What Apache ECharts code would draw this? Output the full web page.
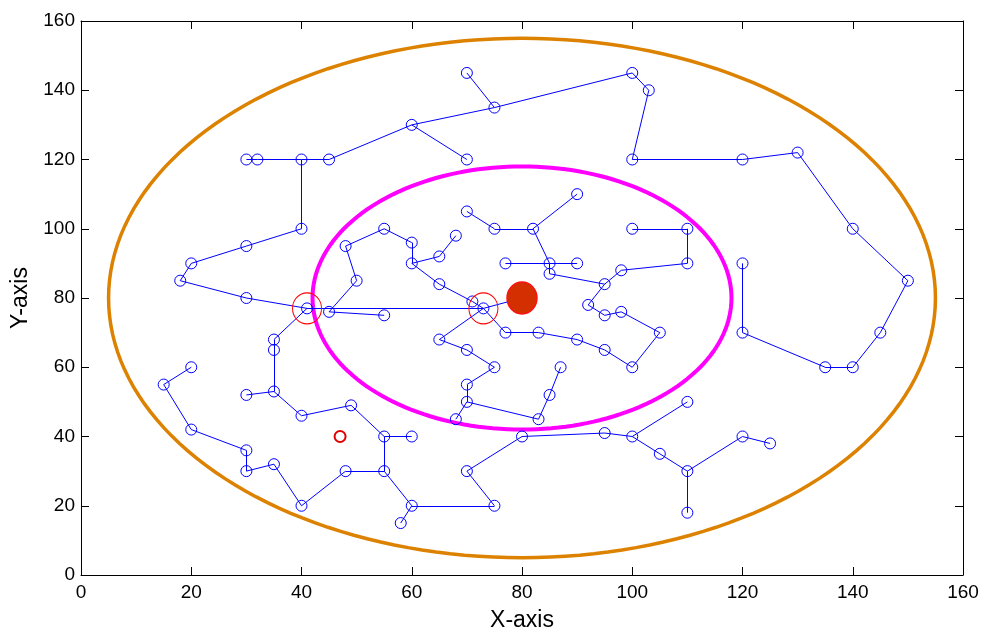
<!DOCTYPE html>
<html>

<head>
	<meta charset="UTF-8">
	<title>X-axis / Y-axis</title>
	<script type="text/javascript" src="https://cdn.jsdelivr.net/npm/echarts@6/dist/echarts.min.js"></script>
</head>
<style>
	html, body { margin: 0; padding: 0; background: #fff; }
	#chaerts01 { width: 981px; height: 632px; }
</style>

<body style="overflow: hidden;">
	<div id="chaerts01"></div>
	<script>
		// 树的节点
		var nodes = [
			[70, 145], [75, 135], [100, 145], [103, 140], [60, 130], [70, 120],
			[30, 120], [32, 120], [40, 120], [45, 120], [40, 100], [30, 95], [20, 90], [18, 85], [30, 80], [41, 77],
			[100, 120], [120, 120], [130, 122], [140, 100], [150, 85], [145, 70], [140, 60], [135, 60], [120, 70], [120, 90],
			[45, 76], [55, 75], [50, 85], [48, 95], [55, 100], [60, 96], [60, 90], [65, 92], [68, 98], [65, 84], [71, 79], [73, 77],
			[65, 68], [70, 65], [75, 60], [70, 55], [70, 50], [68, 45], [83, 45], [85, 52], [87, 60],
			[77, 70], [83, 70], [90, 68], [95, 65], [100, 60], [105, 70], [98, 76], [95, 75], [92, 78], [95, 84], [98, 88],
			[110, 90], [110, 100], [100, 100], [85, 87], [85, 90], [77, 90], [90, 90], [82, 100], [75, 100], [90, 110], [70, 105],
			[35, 68], [35, 65], [35, 53], [30, 52], [40, 46], [49, 49], [55, 40], [60, 40], [55, 30], [48, 30], [40, 20],
			[35, 32], [30, 30], [30, 36], [20, 42], [15, 55], [20, 60], [60, 20], [58, 15], [75, 20], [70, 30], [80, 40],
			[95, 41], [100, 40], [110, 50], [105, 35], [110, 30], [110, 18], [120, 40], [125, 38]
		];
		// 树的边
		var edges = [
			[[70, 145], [75, 135]], [[75, 135], [100, 145]], [[60, 130], [75, 135]], [[100, 145], [103, 140]],
			[[103, 140], [100, 120]], [[100, 120], [120, 120]], [[120, 120], [130, 122]], [[130, 122], [140, 100]],
			[[140, 100], [150, 85]], [[150, 85], [145, 70]], [[145, 70], [140, 60]], [[140, 60], [135, 60]],
			[[135, 60], [120, 70]], [[120, 70], [120, 90]], [[60, 130], [70, 120]], [[60, 130], [45, 120]],
			[[45, 120], [40, 120]], [[40, 120], [32, 120]], [[32, 120], [30, 120]], [[40, 120], [40, 100]],
			[[40, 100], [30, 95]], [[30, 95], [20, 90]], [[20, 90], [18, 85]], [[18, 85], [30, 80]],
			[[30, 80], [41, 77]], [[41, 77], [73, 77]], [[45, 76], [55, 75]], [[45, 76], [50, 85]],
			[[50, 85], [48, 95]], [[48, 95], [55, 100]], [[55, 100], [60, 96]], [[60, 96], [60, 90]],
			[[60, 90], [65, 92]], [[65, 92], [68, 98]], [[60, 90], [65, 84]], [[65, 84], [71, 79]],
			[[71, 79], [73, 77]], [[73, 77], [80, 80]], [[73, 77], [65, 68]], [[65, 68], [70, 65]],
			[[70, 65], [75, 60]], [[75, 60], [70, 55]], [[70, 55], [70, 50]], [[70, 50], [68, 45]],
			[[70, 50], [83, 45]], [[83, 45], [85, 52]], [[85, 52], [87, 60]], [[73, 77], [77, 70]],
			[[77, 70], [83, 70]], [[83, 70], [90, 68]], [[90, 68], [95, 65]], [[95, 65], [100, 60]],
			[[100, 60], [105, 70]], [[105, 70], [98, 76]], [[98, 76], [95, 75]], [[95, 75], [92, 78]],
			[[92, 78], [95, 84]], [[95, 84], [98, 88]], [[98, 88], [110, 90]], [[110, 90], [110, 100]],
			[[110, 100], [100, 100]], [[95, 84], [85, 87]], [[85, 87], [85, 90]], [[85, 90], [77, 90]],
			[[85, 90], [90, 90]], [[85, 90], [82, 100]], [[82, 100], [75, 100]], [[82, 100], [90, 110]],
			[[75, 100], [70, 105]], [[41, 77], [35, 68]], [[35, 68], [35, 65]], [[35, 65], [35, 53]],
			[[35, 53], [30, 52]], [[35, 53], [40, 46]], [[40, 46], [49, 49]], [[49, 49], [55, 40]],
			[[55, 40], [60, 40]], [[55, 40], [55, 30]], [[55, 30], [48, 30]], [[48, 30], [40, 20]],
			[[40, 20], [35, 32]], [[35, 32], [30, 30]], [[30, 30], [30, 36]], [[30, 36], [20, 42]],
			[[20, 42], [15, 55]], [[15, 55], [20, 60]], [[55, 30], [60, 20]], [[60, 20], [58, 15]],
			[[60, 20], [75, 20]], [[75, 20], [70, 30]], [[70, 30], [80, 40]], [[80, 40], [95, 41]],
			[[95, 41], [100, 40]], [[100, 40], [110, 50]], [[100, 40], [105, 35]], [[105, 35], [110, 30]],
			[[110, 30], [110, 18]], [[110, 30], [120, 40]], [[120, 40], [125, 38]]
		];
		// 目标点、红圈、障碍点
		var goalPoint = [[80, 80]];
		var redRings = [[41, 77], [73, 77]];
		var smallRed = [[47, 40]];
		// 两个椭圆：中心 x, 中心 y, 半径
		var ellipseCenters = [[80, 80], [80, 80]];
		var ellipseRadius = [75, 38];
		var ellipseColors = ['#dc8200', '#ff00ff'];
		var ellipseWidths = [3.5, 4];
		var xTicks = [0, 20, 40, 60, 80, 100, 120, 140, 160];
		var yTicks = [0, 20, 40, 60, 80, 100, 120, 140, 160];

		var fontName = "'Liberation Sans', Arial, Helvetica, sans-serif";
		var chartSmail01 = echarts.init(document.getElementById('chaerts01'));

		var axisCommon = {
			type: 'value',
			min: 0,
			max: 160,
			interval: 20,
			axisLine: { show: true, onZero: false, lineStyle: { color: '#000', width: 1 } },
			axisTick: { show: true, inside: true, length: 8, lineStyle: { color: '#000', width: 1 } },
			splitLine: { show: false }
		};

		function mk(extra) {
			return Object.assign({}, JSON.parse(JSON.stringify(axisCommon)), extra);
		}

		var optionmain01 = {
			animation: false,
			backgroundColor: '#fff',
			grid: { left: 81, right: 18, top: 21, bottom: 57, containLabel: false, outerBoundsMode: 'none' },
			xAxis: [
				mk({
					position: 'bottom',
					name: 'X-axis',
					nameLocation: 'middle',
					nameGap: 34,
					nameTextStyle: { color: '#000', fontSize: 23, fontFamily: fontName },
					axisLabel: {
						color: '#000', fontSize: 19, fontFamily: fontName, margin: 8,
						formatter: function (v) { return xTicks.indexOf(v) >= 0 ? v : ''; }
					}
				}),
				mk({ position: 'top', axisLabel: { show: false } })
			],
			yAxis: [
				mk({
					position: 'left',
					name: 'Y-axis',
					nameLocation: 'middle',
					nameGap: 41,
					nameTextStyle: { color: '#000', fontSize: 23, fontFamily: fontName },
					axisLabel: {
						color: '#000', fontSize: 19, fontFamily: fontName, margin: 6,
						formatter: function (v) { return yTicks.indexOf(v) >= 0 ? v : ''; }
					}
				}),
				mk({ position: 'right', axisLabel: { show: false } })
			],
			series: [{
				// 椭圆
				type: 'custom',
				silent: true,
				data: ellipseCenters.map(function (c, i) { return [c[0], c[1], ellipseRadius[i], i]; }),
				renderItem: function (params, api) {
					var cx = api.value(0), cy = api.value(1), r = api.value(2), k = api.value(3);
					var pts = [];
					for (var a = 0; a <= 360; a += 2) {
						var t = a * Math.PI / 180;
						pts.push(api.coord([cx + r * Math.cos(t), cy + r * Math.sin(t)]));
					}
					return {
						type: 'polyline',
						shape: { points: pts },
						style: { stroke: ellipseColors[k], lineWidth: ellipseWidths[k], fill: null }
					};
				},
				z: 2
			}, {
				// 边
				type: 'lines',
				coordinateSystem: 'cartesian2d',
				silent: true,
				lineStyle: { color: '#0000ff', width: 1, opacity: 1 },
				data: edges.map(function (e) { return { coords: e }; }),
				z: 3
			}, {
				// 节点
				type: 'scatter',
				silent: true,
				symbol: 'circle',
				symbolSize: 11,
				itemStyle: { color: 'rgba(0,0,0,0)', borderColor: '#0000ff', borderWidth: 1, opacity: 1 },
				data: nodes,
				z: 4
			}, {
				type: 'scatter',
				silent: true,
				symbol: 'circle',
				symbolSize: [29, 31],
				itemStyle: { color: 'rgba(0,0,0,0)', borderColor: '#ff0000', borderWidth: 1, opacity: 1 },
				data: redRings,
				z: 5
			}, {
				type: 'scatter',
				silent: true,
				symbol: 'circle',
				symbolSize: 11,
				itemStyle: { color: 'rgba(0,0,0,0)', borderColor: '#e00000', borderWidth: 2, opacity: 1 },
				data: smallRed,
				z: 5
			}, {
				type: 'scatter',
				silent: true,
				symbol: 'circle',
				symbolSize: [30, 32],
				itemStyle: { color: '#d42f00', borderColor: '#ff1010', borderWidth: 1.5, opacity: 1 },
				data: goalPoint,
				z: 3
			}]
		};
		chartSmail01.setOption(optionmain01);
	</script>
</body>

</html>
